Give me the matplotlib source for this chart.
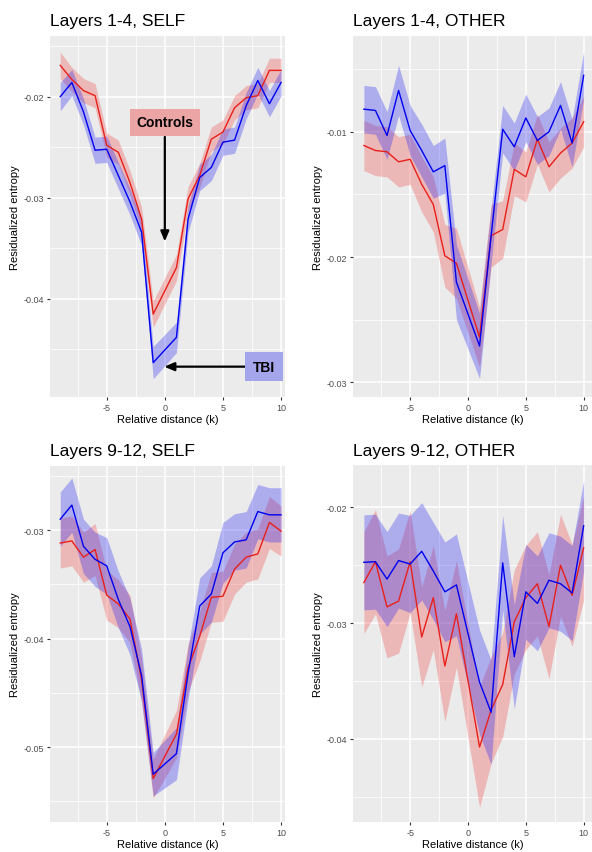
import matplotlib
matplotlib.use("Agg")
import matplotlib.pyplot as plt
from matplotlib.ticker import FixedLocator

plt.rcParams['font.family'] = ['Liberation Sans', 'DejaVu Sans']

# ---- data ----
k = [-9, -8, -7, -6, -5, -4, -3, -2, -1, 1, 2, 3, 4, 5, 6, 7, 8, 9, 10]

# Layers 1-4, SELF
p1_ctrl = [-0.0169, -0.0183, -0.0194, -0.0199, -0.0248, -0.0255, -0.0285, -0.0321, -0.0415,
           -0.0369, -0.0301, -0.0278, -0.0242, -0.0235, -0.0211, -0.0201, -0.0199, -0.0174, -0.0174]
p1_ctrl_se = [0.0013, 0.0012, 0.0012, 0.0012, 0.0012, 0.0012, 0.0012, 0.0012, 0.0013,
              0.0013, 0.0012, 0.0012, 0.0012, 0.0012, 0.0012, 0.0012, 0.0012, 0.0012, 0.0012]
p1_tbi = [-0.0200, -0.0186, -0.0215, -0.0253, -0.0252, -0.0278, -0.0304, -0.0334, -0.0463,
          -0.0438, -0.0321, -0.0280, -0.0270, -0.0245, -0.0243, -0.0209, -0.0184, -0.0207, -0.0186]
p1_tbi_se = [0.0014, 0.0013, 0.0013, 0.0013, 0.0013, 0.0013, 0.0013, 0.0013, 0.0016,
             0.0015, 0.0013, 0.0013, 0.0013, 0.0013, 0.0013, 0.0013, 0.0013, 0.0013, 0.0013]

# Layers 1-4, OTHER
p2_ctrl = [-0.0111, -0.0115, -0.0116, -0.0124, -0.0122, -0.0142, -0.0158, -0.0199, -0.0205,
           -0.0264, -0.0183, -0.0178, -0.0130, -0.0136, -0.0106, -0.0128, -0.0117, -0.0109, -0.0092]
p2_ctrl_se = [0.0020, 0.0020, 0.0020, 0.0020, 0.0020, 0.0022, 0.0022, 0.0025, 0.0028,
              0.0024, 0.0025, 0.0023, 0.0021, 0.0020, 0.0020, 0.0020, 0.0020, 0.0020, 0.0020]
p2_tbi = [-0.0082, -0.0083, -0.0103, -0.0067, -0.0099, -0.0115, -0.0132, -0.0127, -0.0220,
          -0.0271, -0.0183, -0.0098, -0.0112, -0.0089, -0.0107, -0.0100, -0.0079, -0.0109, -0.0055]
p2_tbi_se = [0.0019, 0.0019, 0.0019, 0.0020, 0.0020, 0.0021, 0.0021, 0.0022, 0.0030,
             0.0026, 0.0022, 0.0019, 0.0019, 0.0019, 0.0019, 0.0019, 0.0019, 0.0019, 0.0019]

# Layers 9-12, SELF
p3_ctrl = [-0.0312, -0.0310, -0.0325, -0.0318, -0.0360, -0.0368, -0.0382, -0.0438, -0.0529,
           -0.0488, -0.0427, -0.0398, -0.0362, -0.0361, -0.0336, -0.0325, -0.0322, -0.0293, -0.0301]
p3_ctrl_se = [0.0023, 0.0023, 0.0023, 0.0024, 0.0023, 0.0022, 0.0022, 0.0020, 0.0018,
              0.0022, 0.0022, 0.0023, 0.0023, 0.0023, 0.0023, 0.0023, 0.0023, 0.0024, 0.0023]
p3_tbi = [-0.0290, -0.0277, -0.0315, -0.0327, -0.0333, -0.0364, -0.0389, -0.0434, -0.0525,
          -0.0506, -0.0432, -0.0370, -0.0359, -0.0321, -0.0311, -0.0309, -0.0283, -0.0286, -0.0286]
p3_tbi_se = [0.0025, 0.0025, 0.0025, 0.0025, 0.0026, 0.0026, 0.0026, 0.0024, 0.0020,
             0.0024, 0.0024, 0.0026, 0.0026, 0.0028, 0.0026, 0.0026, 0.0025, 0.0025, 0.0025]

# Layers 9-12, OTHER
p4_ctrl = [-0.0265, -0.0247, -0.0286, -0.0281, -0.0247, -0.0312, -0.0278, -0.0337, -0.0292,
           -0.0407, -0.0375, -0.0353, -0.0299, -0.0278, -0.0266, -0.0303, -0.0250, -0.0276, -0.0235]
p4_ctrl_se = [0.0044, 0.0045, 0.0044, 0.0045, 0.0044, 0.0043, 0.0045, 0.0048, 0.0046,
              0.0052, 0.0046, 0.0045, 0.0045, 0.0045, 0.0045, 0.0045, 0.0044, 0.0044, 0.0045]
p4_tbi = [-0.02475, -0.0247, -0.0262, -0.0246, -0.0249, -0.0238, -0.0255, -0.0273, -0.0267,
          -0.0351, -0.0377, -0.0248, -0.0329, -0.0273, -0.0283, -0.0263, -0.0266, -0.0274, -0.0216]
p4_tbi_se = [0.0041, 0.0041, 0.0041, 0.0041, 0.0042, 0.0042, 0.0042, 0.0043, 0.0044,
             0.0045, 0.0045, 0.0041, 0.0045, 0.0041, 0.0041, 0.0041, 0.0041, 0.0041, 0.0039]

titles = ["Layers 1-4, SELF", "Layers 1-4, OTHER", "Layers 9-12, SELF", "Layers 9-12, OTHER"]
x_ticks = [-5, 0, 5, 10]
y_ticks = [[-0.02, -0.03, -0.04], [-0.01, -0.02, -0.03], [-0.03, -0.04, -0.05], [-0.02, -0.03, -0.04]]
y_minor = [[-0.015, -0.025, -0.035, -0.045], [-0.005, -0.015, -0.025],
           [-0.025, -0.035, -0.045, -0.055], [-0.015, -0.025, -0.035, -0.045]]
x_minor = [-7.5, -2.5, 2.5, 7.5]

# ---- layout (pixels) ----
W, H = 592, 853
fig = plt.figure(figsize=(W / 100, H / 100), dpi=100)
fig.patch.set_facecolor("white")

panels = [
    dict(l=50, r=285, t=37, b=398, xlim=(-9.88, 10.34), ylim=(-0.0497, -0.0140),
         data=(p1_ctrl, p1_ctrl_se, p1_tbi, p1_tbi_se)),
    dict(l=353, r=592, t=37, b=398, xlim=(-9.94, 10.72), ylim=(-0.03117, -0.00236),
         data=(p2_ctrl, p2_ctrl_se, p2_tbi, p2_tbi_se)),
    dict(l=50, r=285, t=467, b=823, xlim=(-9.88, 10.34), ylim=(-0.0569, -0.0241),
         data=(p3_ctrl, p3_ctrl_se, p3_tbi, p3_tbi_se)),
    dict(l=353, r=592, t=466, b=823, xlim=(-9.94, 10.72), ylim=(-0.04717, -0.01635),
         data=(p4_ctrl, p4_ctrl_se, p4_tbi, p4_tbi_se)),
]

axes = []
for i, p in enumerate(panels):
    ax = fig.add_axes([p['l'] / W, 1 - p['b'] / H, (p['r'] - p['l']) / W, (p['b'] - p['t']) / H])
    axes.append(ax)
    ax.set_facecolor("#EBEBEB")
    for s in ax.spines.values():
        s.set_visible(False)
    ax.set_xlim(*p['xlim'])
    ax.set_ylim(*p['ylim'])
    ax.xaxis.set_major_locator(FixedLocator(x_ticks))
    ax.yaxis.set_major_locator(FixedLocator(y_ticks[i]))
    ax.xaxis.set_minor_locator(FixedLocator(x_minor))
    ax.yaxis.set_minor_locator(FixedLocator(y_minor[i]))
    ax.set_xticklabels([str(t) for t in x_ticks])
    ax.set_yticklabels([f"{t:.2f}" for t in y_ticks[i]])
    ax.grid(which="major", color="white", linewidth=1.1)
    ax.grid(which="minor", color="white", linewidth=0.55)
    ax.set_axisbelow(True)
    ax.tick_params(which="major", length=2.5, width=0.8, color="#333333",
                   labelsize=6.5, labelcolor="#4D4D4D", pad=1.5)
    ax.tick_params(which="minor", length=0)
    ax.set_xlabel("Relative distance (k)", fontsize=8, color="black", labelpad=1.5)
    ax.set_ylabel("Residualized entropy", fontsize=8, color="black", labelpad=3)

    ctrl, ctrl_se, tbi, tbi_se = p['data']
    ax.fill_between(k, [v - e for v, e in zip(ctrl, ctrl_se)], [v + e for v, e in zip(ctrl, ctrl_se)],
                    color="#F04040", alpha=0.3, linewidth=0, zorder=2)
    ax.fill_between(k, [v - e for v, e in zip(tbi, tbi_se)], [v + e for v, e in zip(tbi, tbi_se)],
                    color="#2020F8", alpha=0.3, linewidth=0, zorder=2)
    ax.plot(k, ctrl, color="#E8201A", linewidth=1.0, zorder=3)
    ax.plot(k, tbi, color="#0000EE", linewidth=1.0, zorder=4)

    fig.text(p['l'] / W, 1 - 26 / H if i < 2 else 1 - 456 / H, titles[i],
             fontsize=12.5, color="black", ha="left", va="baseline")

# annotations in panel 1
ax = axes[0]
ax.annotate("", xy=(0, -0.0346), xytext=(0, -0.0237),
            arrowprops=dict(arrowstyle="-|>,head_length=0.6,head_width=0.25", color="black", lw=1.6),
            zorder=6)
ax.text(0, -0.02254, "Controls", fontsize=10, fontweight="bold", ha="center", va="center", zorder=7,
        bbox=dict(boxstyle="square,pad=0.45", facecolor="#EBA5A5", edgecolor="none"))
ax.annotate("", xy=(-0.3, -0.0467), xytext=(7.6, -0.0467),
            arrowprops=dict(arrowstyle="-|>,head_length=0.6,head_width=0.25", color="black", lw=1.6),
            zorder=6)
ax.text(8.55, -0.0467, "TBI", fontsize=10, fontweight="bold", ha="center", va="center", zorder=7,
        bbox=dict(boxstyle="square,pad=0.55", facecolor="#A5A5EB", edgecolor="none"))

fig.savefig("out.png", dpi=100, facecolor="white")
